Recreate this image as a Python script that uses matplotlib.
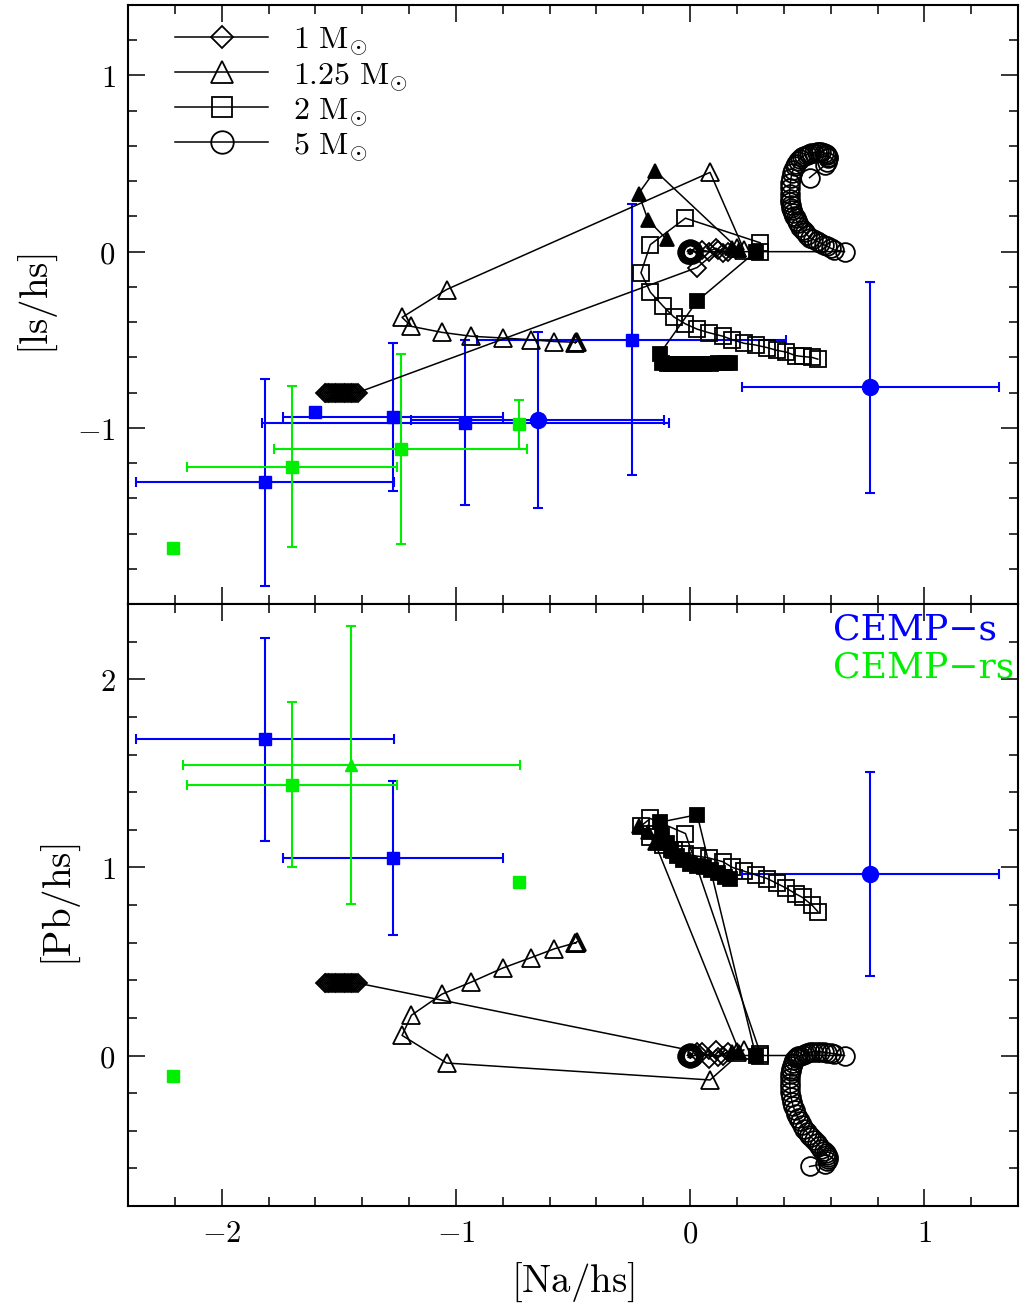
import numpy as np
import matplotlib
matplotlib.use("Agg")
import matplotlib.pyplot as plt
from matplotlib.ticker import MultipleLocator

plt.rcParams["mathtext.fontset"] = "cm"
plt.rcParams["font.family"] = ["DejaVu Serif"]

# ---- observations: CEMP-s (blue) ----
s_sq_na = [-1.815, -1.27, -0.96, -0.25]
s_sq_ls = [-1.31, -0.94, -0.97, -0.50]
s_sq_na_err = [0.55, 0.47, 0.87, 0.66]
s_sq_ls_err = [0.585, 0.42, 0.47, 0.77]
s_sq_noerr_na = [-1.60]
s_sq_noerr_ls = [-0.91]
s_ci_na = [-0.65, 0.77]
s_ci_ls = [-0.955, -0.77]
s_ci_na_err = [0.54, 0.55]
s_ci_ls_err = [0.50, 0.60]

s_sq_pb_na = [-1.815, -1.27]
s_sq_pb = [1.68, 1.05]
s_sq_pb_na_err = [0.55, 0.47]
s_sq_pb_err = [0.54, 0.41]
s_ci_pb_na = [0.77]
s_ci_pb = [0.965]
s_ci_pb_na_err = [0.55]
s_ci_pb_err = [0.54]

# ---- observations: CEMP-rs (green) ----
rs_na = [-1.70, -1.235]
rs_ls = [-1.22, -1.12]
rs_na_err = [0.45, 0.54]
rs_ls_err = [0.455, 0.54]
rs_y_only_na = [-0.73]
rs_y_only_ls = [-0.98]
rs_y_only_err = [0.14]
rs_noerr_na = [-2.21]
rs_noerr_ls = [-1.68]

rs_pb_na = [-1.70]
rs_pb = [1.44]
rs_pb_na_err = [0.45]
rs_pb_err = [0.44]
rs_tri_na = [-1.447]
rs_tri_pb = [1.545]
rs_tri_na_err = [0.72]
rs_tri_pb_err = [0.74]
rs_pb_noerr_na = [-2.21, -0.73]
rs_pb_noerr = [-0.11, 0.92]

# ---- models ----
m1_na = [0.05, 0.08, 0.11, 0.14, 0.16, 0.12, 0.03,
         -1.42, -1.428, -1.435, -1.443, -1.45, -1.457, -1.465, -1.472, -1.48,
         -1.487, -1.495, -1.502, -1.51, -1.517, -1.525, -1.532, -1.54, -1.547, -1.555, -1.56]
m1_ls = [0.01, 0.0, 0.02, -0.01, 0.0, 0.01, -0.09,
         -0.80, -0.80, -0.80, -0.80, -0.80, -0.80, -0.80, -0.80, -0.80,
         -0.80, -0.80, -0.80, -0.80, -0.80, -0.80, -0.80, -0.80, -0.80, -0.80, -0.80]
m1_pb = [0.02, -0.02, 0.03, 0.0, 0.02, -0.01, 0.02,
         0.385, 0.385, 0.385, 0.385, 0.385, 0.385, 0.385, 0.385, 0.385,
         0.385, 0.385, 0.385, 0.385, 0.385, 0.385, 0.385, 0.385, 0.385, 0.385, 0.385]

m125_na = [0.20, 0.23, 0.085, -1.04, -1.23, -1.19, -1.06, -0.935, -0.80, -0.68, -0.58, -0.487, -0.492, -0.483]
m125_ls = [0.02, 0.01, 0.45, -0.215, -0.373, -0.424, -0.458, -0.48, -0.49, -0.50, -0.51, -0.514, -0.518, -0.51]
m125_pb = [0.02, 0.03, -0.13, -0.04, 0.107, 0.214, 0.326, 0.39, 0.465, 0.52, 0.567, 0.60, 0.596, 0.605]

m125f_na = [0.18, 0.21, -0.15, -0.22, -0.18, -0.10]
m125f_ls = [0.02, 0.01, 0.46, 0.33, 0.18, 0.07]
m125f_pb = [0.02, 0.02, 1.13, 1.22, 1.19, 1.13]

m2_na = [0.30, 0.30, -0.02, -0.17, -0.21, -0.17, -0.115, -0.07, -0.02, 0.03, 0.08,
         0.14, 0.18, 0.23, 0.28, 0.33, 0.37, 0.41, 0.45, 0.48, 0.52, 0.545]
m2_ls = [0.0, 0.05, 0.19, 0.04, -0.12, -0.23, -0.31, -0.37, -0.41, -0.44, -0.46,
         -0.48, -0.50, -0.52, -0.53, -0.545, -0.56, -0.57, -0.59, -0.595, -0.60, -0.61]
m2_pb = [0.0, 0.01, 1.18, 1.26, 1.22, 1.16, 1.12, 1.09, 1.07, 1.06, 1.05,
         1.03, 1.00, 0.98, 0.96, 0.94, 0.915, 0.89, 0.86, 0.84, 0.80, 0.765]

m2f_na = [0.28, 0.03, -0.13, -0.12, -0.10, -0.08, -0.055, -0.03, 0.0, 0.03, 0.06, 0.09, 0.12, 0.15, 0.17]
m2f_ls = [0.0, -0.28, -0.58, -0.63, -0.635, -0.64, -0.64, -0.64, -0.64, -0.635, -0.635, -0.635, -0.63, -0.63, -0.63]
m2f_pb = [0.0, 1.28, 1.24, 1.17, 1.13, 1.09, 1.06, 1.04, 1.02, 1.01, 1.0, 0.985, 0.97, 0.95, 0.94]

m5_na = [-0.012, 0.0, 0.012, 0.0, -0.009, 0.009, -0.009, 0.009, 0.0, -0.005, 0.005, 0.0,
         0.66,
         0.615, 0.60, 0.585, 0.57, 0.555, 0.54, 0.525, 0.51, 0.50, 0.49,
         0.48, 0.47, 0.46, 0.455, 0.45, 0.445, 0.44, 0.435, 0.432, 0.43,
         0.427, 0.425, 0.425, 0.426, 0.428, 0.431, 0.435, 0.44, 0.446, 0.452,
         0.46, 0.468, 0.477, 0.487, 0.497, 0.507, 0.518, 0.529, 0.54, 0.55,
         0.56, 0.57, 0.578, 0.585, 0.59, 0.59, 0.585, 0.575, 0.51]
m5_ls = [0.0, 0.016, 0.0, -0.016, 0.011, -0.011, -0.011, 0.011, 0.0, 0.006, -0.006, 0.0,
         0.00,
         0.01, 0.02, 0.03, 0.04, 0.05, 0.06, 0.07, 0.08, 0.095, 0.11,
         0.125, 0.14, 0.16, 0.175, 0.19, 0.205, 0.22, 0.235, 0.25, 0.265,
         0.28, 0.30, 0.33, 0.36, 0.39, 0.42, 0.445, 0.465, 0.485, 0.50,
         0.515, 0.525, 0.535, 0.545, 0.55, 0.555, 0.56, 0.562, 0.565, 0.565,
         0.563, 0.56, 0.555, 0.55, 0.54, 0.53, 0.51, 0.49, 0.42]
m5_pb = [0.0, 0.015, 0.0, -0.015, 0.01, -0.01, -0.01, 0.01, 0.0, 0.006, -0.006, 0.0,
         0.00,
         0.01, 0.012, 0.015, 0.018, 0.02, 0.02, 0.02, 0.018, 0.014, 0.01,
         0.005, 0.0, -0.005, -0.01, -0.015, -0.025, -0.04, -0.055, -0.07, -0.08,
         -0.10, -0.12, -0.145, -0.17, -0.195, -0.22, -0.245, -0.27, -0.29, -0.31,
         -0.33, -0.35, -0.37, -0.39, -0.405, -0.42, -0.435, -0.45, -0.465, -0.48,
         -0.495, -0.51, -0.52, -0.53, -0.54, -0.55, -0.56, -0.575, -0.59]

legend_labels = [r"$1\ \mathrm{M}_{\odot}$", r"$1.25\ \mathrm{M}_{\odot}$",
                 r"$2\ \mathrm{M}_{\odot}$", r"$5\ \mathrm{M}_{\odot}$"]
xticks = [-2, -1, 0, 1]
xtick_labels = [r"$-2$", r"$-1$", r"$0$", r"$1$"]
top_yticks = [-1, 0, 1]
top_ytick_labels = [r"$-1$", r"$0$", r"$1$"]
bot_yticks = [0, 1, 2]
bot_ytick_labels = [r"$0$", r"$1$", r"$2$"]

BLUE = "#0000ff"
GREEN = "#00ee00"

fig = plt.figure(figsize=(10.21, 13.14), dpi=100)
ax1 = fig.add_axes([0.1254, 0.5403, 0.8717, 0.4559])
ax2 = fig.add_axes([0.1254, 0.0822, 0.8717, 0.4581], sharex=ax1)

eb = dict(ls="none", capsize=3.5, elinewidth=1.5, capthick=1.5, zorder=2)

# top panel observations
ax1.errorbar(s_sq_na, s_sq_ls, xerr=s_sq_na_err, yerr=s_sq_ls_err, fmt="s", ms=9, color=BLUE, **eb)
ax1.plot(s_sq_noerr_na, s_sq_noerr_ls, "s", ms=9, color=BLUE, zorder=2)
ax1.errorbar(s_ci_na, s_ci_ls, xerr=s_ci_na_err, yerr=s_ci_ls_err, fmt="o", ms=11.5, color=BLUE, **eb)
ax1.errorbar(rs_na, rs_ls, xerr=rs_na_err, yerr=rs_ls_err, fmt="s", ms=9, color=GREEN, **eb)
ax1.errorbar(rs_y_only_na, rs_y_only_ls, yerr=rs_y_only_err, fmt="s", ms=9, color=GREEN, **eb)
ax1.plot(rs_noerr_na, rs_noerr_ls, "s", ms=9, color=GREEN, zorder=2)

# bottom panel observations
ax2.errorbar(s_sq_pb_na, s_sq_pb, xerr=s_sq_pb_na_err, yerr=s_sq_pb_err, fmt="s", ms=9, color=BLUE, **eb)
ax2.errorbar(s_ci_pb_na, s_ci_pb, xerr=s_ci_pb_na_err, yerr=s_ci_pb_err, fmt="o", ms=11.5, color=BLUE, **eb)
ax2.errorbar(rs_pb_na, rs_pb, xerr=rs_pb_na_err, yerr=rs_pb_err, fmt="s", ms=9, color=GREEN, **eb)
ax2.errorbar(rs_tri_na, rs_tri_pb, xerr=rs_tri_na_err, yerr=rs_tri_pb_err, fmt="^", ms=9, color=GREEN, **eb)
ax2.plot(rs_pb_noerr_na, rs_pb_noerr, "s", ms=9, color=GREEN, zorder=2)

# model tracks
tk = dict(color="black", lw=1.1, mec="black", mew=1.3, zorder=3)
handles = []
for ax, key in ((ax1, "ls"), (ax2, "pb")):
    y1 = m1_ls if key == "ls" else m1_pb
    y125 = m125_ls if key == "ls" else m125_pb
    y125f = m125f_ls if key == "ls" else m125f_pb
    y2 = m2_ls if key == "ls" else m2_pb
    y2f = m2f_ls if key == "ls" else m2f_pb
    y5 = m5_ls if key == "ls" else m5_pb
    l5, = ax.plot(m5_na, y5, marker="o", ms=13.5, mfc="none", **tk)
    l2f, = ax.plot(m2f_na, y2f, marker="s", ms=9.5, mfc="black", **tk)
    l125f, = ax.plot(m125f_na, y125f, marker="^", ms=9.5, mfc="black", **tk)
    l2, = ax.plot(m2_na, y2, marker="s", ms=11.5, mfc="none", **tk)
    l125, = ax.plot(m125_na, y125, marker="^", ms=13, mfc="none", **tk)
    l1, = ax.plot(m1_na, y1, marker="D", ms=9.5, mfc="none", **tk)
    if key == "ls":
        handles = [l1, l125, l2, l5]

ax1.legend(handles, legend_labels, loc="upper left", bbox_to_anchor=(0.053, 0.968),
           frameon=False, borderaxespad=0, borderpad=0, handlelength=2.9,
           handletextpad=0.8, labelspacing=0.06, fontsize=23, numpoints=1,
           markerscale=1.2)

ax2.text(0.792, 0.957, "CEMP\u2212s", color=BLUE, transform=ax2.transAxes,
         fontsize=26, va="center", ha="left")
ax2.text(0.792, 0.894, "CEMP\u2212rs", color=GREEN, transform=ax2.transAxes,
         fontsize=26, va="center", ha="left")

ax1.set_xlim(-2.4, 1.4)
ax1.set_ylim(-2.0, 1.4)
ax2.set_ylim(-0.8, 2.4)

ax2.set_xticks(xticks, labels=xtick_labels)
ax1.set_yticks(top_yticks, labels=top_ytick_labels)
ax2.set_yticks(bot_yticks, labels=bot_ytick_labels)
for ax in (ax1, ax2):
    ax.xaxis.set_minor_locator(MultipleLocator(0.2))
    ax.yaxis.set_minor_locator(MultipleLocator(0.2))
    ax.tick_params(which="both", direction="in", top=True, right=True, width=1.1, labelsize=22)
    ax.tick_params(which="major", length=12, pad=9)
    ax.tick_params(which="minor", length=6.5)
    for s in ax.spines.values():
        s.set_linewidth(1.5)
ax1.tick_params(labelbottom=False)

ax1.set_ylabel(r"$[\mathrm{ls/hs}]$", fontsize=28, labelpad=12)
ax2.set_ylabel(r"$[\mathrm{Pb/hs}]$", fontsize=28, labelpad=12)
ax2.set_xlabel(r"$[\mathrm{Na/hs}]$", fontsize=28, labelpad=8)

fig.savefig("out.png", dpi=100)
